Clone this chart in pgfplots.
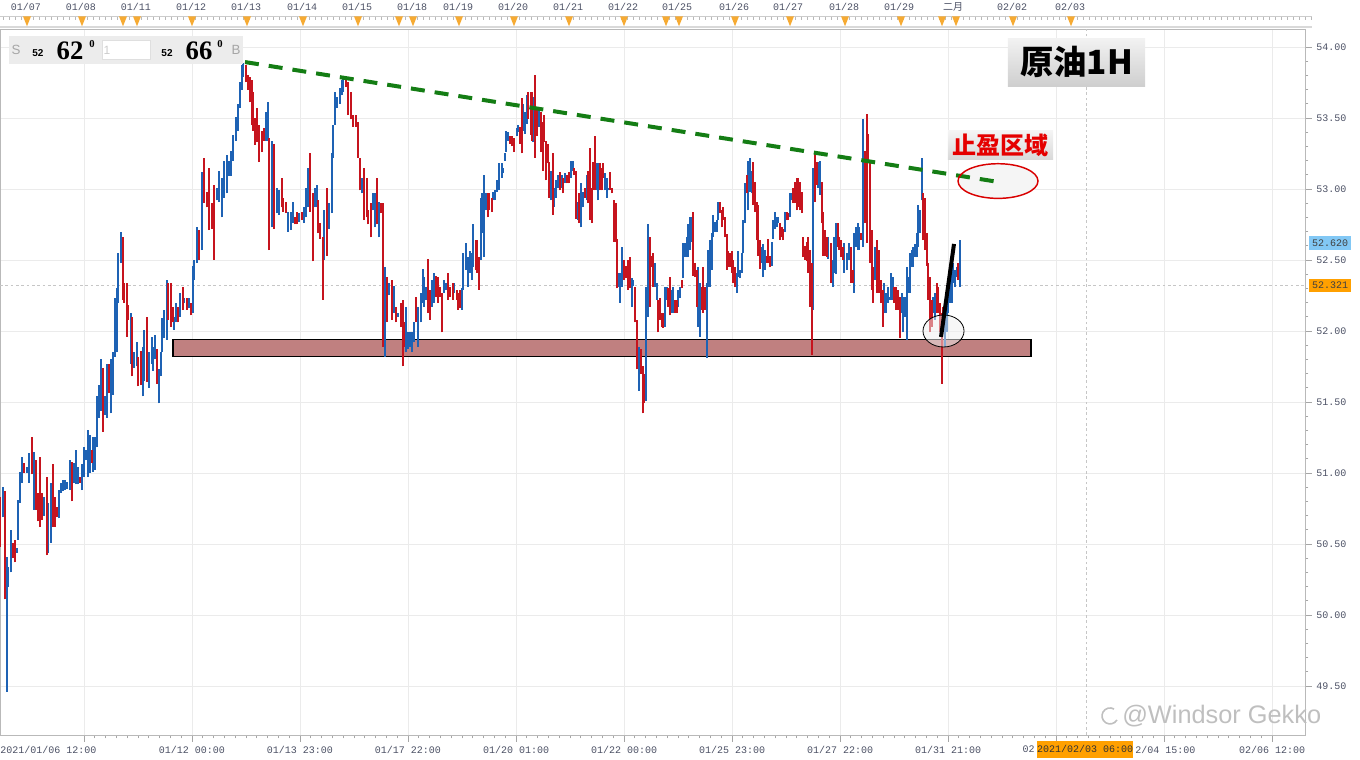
\documentclass[border=0pt]{standalone}
\usepackage{fontspec}
\usepackage{pgfplots}
\usepackage{pgfplotstable}
\pgfplotsset{compat=1.18}
\setmainfont{Liberation Sans}
\newfontfamily\mono{Liberation Mono}
\newfontfamily\serifb{Liberation Serif}
\newfontfamily\cjk{Noto Sans CJK SC}
\definecolor{upc}{RGB}{30,98,180}
\definecolor{dnc}{RGB}{198,20,30}
\definecolor{supp}{RGB}{192,128,128}
\definecolor{trend}{RGB}{20,125,20}
\definecolor{tri}{RGB}{246,170,50}
\definecolor{lbl}{RGB}{75,80,100}
\definecolor{tagblue}{RGB}{130,200,245}
\definecolor{tagorange}{RGB}{255,160,0}
\newcommand\toplab[2]{\node[text=lbl, font=\mono\fontsize{7.5}{9}\selectfont, inner sep=0pt] at (axis cs:#1,54.282) {#2};}

% hourly bars, x = time position, l = low, h = high
\pgfplotstableread{
x l h
3 50.69 50.90
7 49.46 50.41
8 50.20 50.34
11 50.30 50.60
17 50.44 50.47
18 50.53 50.81
20 50.79 51.01
22 50.93 51.11
27 51.00 51.04
29 50.93 51.14
34 50.74 51.15
44 50.70 50.83
48 50.44 50.79
51 50.51 50.93
59 50.68 50.88
61 50.86 50.93
63 50.87 50.95
65 50.88 50.95
67 50.89 50.94
70 50.88 51.09
74 50.93 51.07
76 50.92 51.16
78 50.92 51.04
82 50.88 51.06
84 50.97 51.18
86 51.09 51.16
88 50.97 51.30
90 51.00 51.27
93 51.01 51.25
95 51.02 51.25
97 51.18 51.54
99 51.39 51.62
101 51.44 51.80
105 51.41 51.54
107 51.39 51.77
111 51.42 51.80
113 51.55 51.85
115 51.82 52.23
117 51.85 52.30
118 52.20 52.55
121 52.48 52.70
131 51.77 52.13
134 51.74 51.85
137 51.75 51.92
143 51.54 51.89
144 51.65 52.01
149 51.60 51.85
152 51.77 51.96
153 51.72 51.89
155 51.80 51.97
159 51.49 51.73
161 51.68 51.85
162 51.85 52.09
164 51.95 52.15
167 51.94 52.36
174 52.01 52.10
176 52.06 52.20
180 52.10 52.27
184 52.20 52.23
189 52.16 52.23
193 52.13 52.46
194 52.36 52.50
197 52.48 52.73
202 52.57 53.12
217 52.92 53.01
219 52.91 53.13
222 52.80 53.08
224 52.94 53.20
227 52.97 53.24
229 53.09 53.20
231 53.09 53.27
233 53.20 53.38
236 53.34 53.51
238 53.41 53.60
240 53.57 53.75
242 53.70 53.87
243 53.79 53.89
266 53.34 53.54
268 53.34 53.61
272 52.73 53.34
277 52.83 53.01
279 52.82 52.99
288 52.70 52.84
291 52.71 52.84
293 52.76 52.91
299 52.77 52.83
304 52.76 52.87
306 52.80 53.01
308 52.87 53.15
315 52.87 53.01
317 52.87 53.03
324 52.50 52.85
329 52.72 52.90
332 52.83 53.25
333 53.22 53.45
335 53.45 53.68
337 53.57 53.65
340 53.60 53.71
342 53.66 53.77
343 53.68 53.78
362 52.97 53.08
373 52.85 52.97
375 52.73 52.97
379 52.66 52.91
385 51.82 52.45
389 52.25 52.34
394 52.13 52.32
398 52.10 52.13
406 51.85 52.17
408 51.87 51.99
410 51.89 51.99
412 51.85 51.99
414 51.92 52.06
418 51.89 52.17
421 52.06 52.27
423 52.20 52.44
424 52.17 52.38
426 52.22 52.31
432 52.17 52.36
434 52.20 52.41
444 52.27 52.36
446 52.29 52.34
454 52.27 52.34
462 52.15 52.30
463 52.29 52.55
466 52.43 52.62
468 52.31 52.52
470 52.41 52.56
472 52.36 52.55
473 52.45 52.75
481 52.50 52.94
482 52.69 52.97
484 52.52 53.10
486 52.85 52.97
493 52.92 52.98
495 52.92 52.99
497 52.98 53.06
499 52.99 53.18
502 53.08 53.18
503 53.11 53.15
505 53.20 53.25
506 53.26 53.41
508 53.34 53.40
517 53.37 53.43
518 53.40 53.45
523 53.41 53.60
525 53.39 53.54
527 53.46 53.66
533 53.33 53.65
539 53.44 53.58
551 52.92 53.13
554 52.87 53.01
556 52.94 53.06
558 53.01 53.10
562 53.01 53.10
565 53.04 53.11
571 53.08 53.20
573 53.13 53.20
578 52.78 52.91
581 52.73 53.04
583 52.87 52.98
587 52.92 53.10
597 52.99 53.18
598 52.92 53.18
605 52.99 53.11
607 52.94 53.08
609 52.99 53.01
618 52.31 52.41
620 52.20 52.41
622 52.31 52.59
632 52.17 52.37
633 52.32 52.36
639 51.58 51.89
646 51.51 52.31
648 52.10 52.75
655 52.31 52.48
657 52.22 52.34
665 52.03 52.31
667 52.22 52.31
672 52.13 52.29
673 52.13 52.31
678 52.17 52.29
680 52.23 52.31
683 52.37 52.62
685 52.52 52.62
687 52.52 52.66
688 52.52 52.75
690 52.57 52.80
692 52.63 52.80
698 52.03 52.45
700 51.96 52.34
707 51.81 52.34
708 52.31 52.57
710 52.31 52.64
712 52.43 52.69
713 52.66 52.82
715 52.70 52.77
717 52.70 52.78
718 52.78 52.91
737 52.27 52.41
738 52.38 52.56
740 52.37 52.43
742 52.41 52.55
743 52.55 52.78
745 52.76 53.04
748 52.85 53.20
750 52.98 53.22
752 52.97 53.13
762 52.48 52.59
763 52.38 52.61
765 52.43 52.57
772 52.46 52.63
773 52.65 52.78
775 52.72 52.84
777 52.73 52.80
778 52.76 52.80
785 52.70 52.84
790 52.80 52.97
792 52.92 52.97
813 52.15 53.15
818 53.01 53.19
820 52.96 53.20
828 52.51 52.66
833 52.31 52.50
834 52.41 52.66
836 52.40 52.76
844 52.41 52.62
847 52.43 52.55
849 52.50 52.62
854 52.27 52.69
856 52.59 52.73
858 52.57 52.76
859 52.57 52.73
863 52.59 53.49
875 52.36 52.59
884 52.13 52.34
886 52.13 52.27
888 52.20 52.31
889 52.22 52.24
891 52.22 52.41
893 52.22 52.38
902 52.13 52.27
903 51.99 52.24
905 52.10 52.24
907 51.94 52.45
908 52.27 52.38
910 52.27 52.55
912 52.45 52.57
913 52.45 52.59
915 52.52 52.61
917 52.52 52.69
918 52.59 52.89
920 52.69 52.85
922 52.92 53.22
933 52.13 52.24
935 52.08 52.27
945 51.89 52.10
947 51.99 52.22
948 52.13 52.27
950 52.20 52.38
952 52.20 52.43
953 52.34 52.48
955 52.31 52.43
957 52.38 52.45
960 52.31 52.64
}\upbars

\pgfplotstableread{
x l h
0 50.48 50.83
5 50.11 50.87
13 50.40 50.51
15 50.37 50.53
24 51.00 51.07
32 50.99 51.25
36 50.74 51.09
38 50.66 50.86
40 50.62 51.11
42 50.67 50.86
47 50.42 50.97
53 50.62 51.06
55 50.62 50.83
57 50.69 50.76
72 50.80 51.08
80 50.93 50.97
92 51.07 51.16
103 51.29 51.74
109 51.56 51.77
123 52.22 52.66
124 52.20 52.34
127 51.96 52.34
128 52.08 52.18
132 51.68 52.10
138 51.61 51.82
141 51.62 51.86
147 51.64 52.10
157 51.63 51.87
168 52.08 52.34
171 52.03 52.34
173 52.06 52.17
178 52.06 52.17
183 52.15 52.31
187 52.15 52.23
191 52.11 52.20
199 52.50 52.71
204 52.90 53.22
207 52.87 52.98
209 52.71 53.15
212 52.72 52.90
214 52.50 53.03
246 53.75 53.87
248 53.70 53.80
250 53.61 53.79
252 53.45 53.77
253 53.41 53.68
255 53.31 53.50
257 53.33 53.57
259 53.19 53.45
262 53.26 53.41
264 53.34 53.43
269 52.57 53.36
274 52.72 53.32
282 52.87 53.08
283 52.84 52.94
286 52.83 52.91
295 52.75 52.80
297 52.75 52.84
302 52.78 52.84
310 52.84 53.25
313 52.49 52.97
318 52.69 52.92
320 52.65 52.76
323 52.22 52.66
327 52.53 53.01
346 53.72 53.77
348 53.52 53.75
351 53.49 53.68
353 53.44 53.52
356 53.44 53.52
358 53.22 53.47
360 52.99 53.22
364 52.78 53.15
367 52.80 53.08
368 52.75 52.85
371 52.66 52.90
377 52.75 53.08
381 52.83 52.90
383 51.89 52.90
387 52.06 52.38
392 52.08 52.36
396 52.06 52.17
401 52.03 52.20
403 51.75 52.22
404 51.89 52.06
416 52.06 52.24
428 52.13 52.51
430 52.08 52.29
436 52.24 52.39
438 52.20 52.38
440 52.24 52.31
442 51.99 52.27
448 52.22 52.41
450 52.24 52.31
453 52.22 52.34
457 52.22 52.29
458 52.15 52.27
460 52.16 52.29
476 52.43 52.64
477 52.41 52.64
479 52.29 52.52
488 52.80 52.97
489 52.85 52.97
492 52.84 52.94
510 53.32 53.37
512 53.30 53.37
514 53.26 53.36
520 53.32 53.44
522 53.25 53.64
528 53.49 53.68
531 53.38 53.68
532 53.34 53.68
535 53.22 53.80
537 53.37 53.58
541 53.26 53.54
543 53.13 53.47
544 53.33 53.52
546 53.06 53.34
548 53.18 53.32
549 52.94 53.19
553 52.82 53.25
560 52.99 53.12
563 52.97 53.08
567 53.04 53.10
569 53.04 53.12
574 53.10 53.15
576 52.79 53.13
579 52.76 52.97
585 52.94 53.01
588 52.90 53.13
590 52.78 53.29
592 52.76 53.01
593 52.99 53.19
595 52.99 53.37
600 52.99 53.18
602 52.99 53.15
603 53.08 53.18
610 52.99 53.12
612 52.97 53.01
614 52.63 52.92
616 52.63 52.90
617 52.30 52.65
624 52.36 52.50
626 52.37 52.46
628 52.29 52.50
630 52.30 52.52
635 52.06 52.31
637 51.73 52.08
641 51.70 51.87
643 51.42 51.75
644 51.49 51.70
650 52.17 52.66
652 52.45 52.53
653 52.31 52.55
658 51.99 52.22
660 52.08 52.23
662 52.03 52.13
663 52.02 52.13
668 52.17 52.30
670 52.11 52.38
675 52.13 52.22
677 52.13 52.22
682 52.30 52.36
693 52.39 52.84
695 52.38 52.48
697 52.17 52.43
702 52.15 52.31
703 52.13 52.45
705 52.15 52.31
720 52.83 52.91
722 52.73 52.85
723 52.78 52.87
725 52.66 52.80
727 52.43 52.68
728 52.45 52.56
730 52.45 52.55
732 52.41 52.56
733 52.34 52.50
735 52.31 52.45
747 52.97 53.10
753 52.89 53.19
755 52.84 53.05
757 52.64 52.91
758 52.53 52.89
760 52.44 52.64
767 52.48 52.53
768 52.48 52.65
770 52.45 52.53
780 52.64 52.76
782 52.66 52.73
783 52.64 52.72
787 52.78 52.84
788 52.78 52.83
793 52.90 53.01
795 52.90 53.05
797 52.85 53.08
798 52.87 53.08
800 52.85 53.05
802 52.83 52.98
803 52.52 52.66
805 52.50 52.60
807 52.49 52.63
808 52.41 52.66
810 52.17 52.57
812 51.83 52.48
815 52.91 53.26
817 53.03 53.19
822 52.76 53.05
823 52.53 52.84
825 52.53 52.71
827 52.52 52.66
831 52.34 52.62
838 52.59 52.76
839 52.57 52.66
841 52.52 52.64
843 52.50 52.59
851 52.34 52.59
853 52.34 52.43
861 52.64 52.69
865 52.76 53.27
867 52.62 53.53
868 53.20 53.39
870 52.48 53.20
872 52.29 52.71
873 52.20 52.45
877 52.27 52.64
879 52.27 52.57
881 52.20 52.36
883 52.03 52.29
894 52.20 52.31
896 52.15 52.31
898 52.15 52.29
900 51.95 52.24
923 52.64 52.97
925 52.57 52.94
927 52.46 52.69
928 52.22 52.48
930 51.99 52.38
932 52.03 52.22
937 52.13 52.34
938 52.13 52.31
940 51.99 52.20
942 51.63 52.13
943 51.99 52.17
958 52.36 52.48
}\dnbars

\begin{document}
\begin{tikzpicture}
\begin{axis}[
    scale only axis, width=978.75pt, height=529.5pt,
    xmin=0, xmax=1305, ymin=49.155, ymax=54.127,
    clip=false,
    axis line style={draw=gray!55},
    tick align=outside, major tick length=5pt, minor tick length=2.5pt,
    tick style={gray!70, line width=0.5pt},
    xtick={84,192,300,408,516,624,732,840,948,1056,1164,1272},
    xticklabels={,01/12 00:00,01/13 23:00,01/17 22:00,01/20 01:00,01/22 00:00,01/25 23:00,01/27 22:00,01/31 21:00,,,02/06 12:00},
    minor x tick num=9,
    xtick pos=bottom,
    ytick={49.5,50,50.5,51,51.5,52,52.5,53,53.5,54},
    minor y tick num=4,
    ytick pos=right, yticklabel pos=right,
    yticklabel={\pgfmathprintnumber[fixed,fixed zerofill,precision=2,assume math mode=true]{\tick}},
    ticklabel style={font=\mono\fontsize{7.5}{9}\selectfont, text=lbl},
    grid=major, major grid style={gray!16, line width=0.7pt},
]
% support zone and crosshair
\fill[supp, draw=black, line width=0.8pt] (axis cs:173,51.82) rectangle (axis cs:1031,51.94);
\draw[gray!45, dash pattern=on 2pt off 2pt, line width=0.5pt] (axis cs:0,52.321) -- (axis cs:1305,52.321);
\draw[gray!45, dash pattern=on 2pt off 2pt, line width=0.5pt] (axis cs:1086,49.155) -- (axis cs:1086,54.127);

% bars
\addplot[draw=upc, line width=0.85pt, quiver={u=0, v=\thisrow{h}-\thisrow{l}}] table[x=x, y=l] {\upbars};
\addplot[draw=dnc, line width=0.85pt, quiver={u=0, v=\thisrow{h}-\thisrow{l}}] table[x=x, y=l] {\dnbars};

% target zone, resistance line, rebound mark
\fill[gray!8] (axis cs:998,53.056) ellipse [x radius=30pt, y radius=13pt];
\draw[trend, line width=3pt, dash pattern=on 10.5pt off 7.5pt] (axis cs:245,53.894) -- (axis cs:998,53.05);
\draw[red!85!black, line width=1.1pt] (axis cs:998,53.056) ellipse [x radius=30pt, y radius=13pt];
\draw[black, line width=0.6pt, fill=gray!12, fill opacity=0.5] (axis cs:943.5,52.0) ellipse [x radius=15.4pt, y radius=12pt];
\draw[black, line width=3pt] (axis cs:941,51.958) -- (axis cs:954,52.613);

% annotation boxes
\node[top color=gray!10, bottom color=gray!38, minimum width=103pt, minimum height=36pt, inner sep=0pt,
      font=\cjk\bfseries\fontsize{25}{27}\selectfont] at (axis cs:1076.5,53.894) {原油1H};
\node[top color=gray!8, bottom color=gray!30, minimum width=79pt, minimum height=22pt, inner sep=0pt,
      text=red!90!black, font=\cjk\bfseries\fontsize{18}{20}\selectfont] at (axis cs:1000.5,53.31) {止盈区域};

% quote box
\fill[gray!15] (axis cs:9,54.077) rectangle (axis cs:243,53.88);
\filldraw[fill=white, draw=gray!25, line width=0.4pt] (axis cs:102,54.049) rectangle (axis cs:150,53.915);
\node[text=gray!40, font=\fontsize{9}{10}\selectfont] at (axis cs:107,53.979) {1};
\node[text=gray!70, font=\fontsize{10}{11}\selectfont] at (axis cs:16,53.979) {S};
\node[font=\bfseries\fontsize{7.5}{8}\selectfont] at (axis cs:38,53.955) {52};
\node[font=\serifb\bfseries\fontsize{20}{21}\selectfont] at (axis cs:70,53.976) {62};
\node[font=\serifb\bfseries\fontsize{8}{9}\selectfont] at (axis cs:92,54.021) {0};
\node[font=\bfseries\fontsize{7.5}{8}\selectfont] at (axis cs:167,53.955) {52};
\node[font=\serifb\bfseries\fontsize{20}{21}\selectfont] at (axis cs:199,53.976) {66};
\node[font=\serifb\bfseries\fontsize{8}{9}\selectfont] at (axis cs:220,54.021) {0};
\node[text=gray!70, font=\fontsize{10}{11}\selectfont] at (axis cs:236,53.979) {B};

% top date ruler
\draw[gray!40, line width=0.6pt] (axis cs:0,54.213) -- (axis cs:1312,54.213);
\pgfplotsinvokeforeach{3,9,...,1311}{\draw[gray!55, line width=0.4pt] (axis cs:#1,54.213) -- (axis cs:#1,54.190);}
\draw[gray!30, line width=1.2pt] (axis cs:0,54.141) -- (axis cs:1312,54.141);
\pgfplotsinvokeforeach{27,82,123,137,192,247,303,358,399,413,459,514,569,624,666,679,735,790,845,901,942,956,1013,1071}
  {\fill[tri] (axis cs:#1,54.146) -- ++(-3pt,7.5pt) -- ++(6pt,0pt) -- cycle;}
\toplab{26}{01/07}\toplab{81}{01/08}\toplab{136}{01/11}\toplab{191}{01/12}\toplab{246}{01/13}
\toplab{302}{01/14}\toplab{357}{01/15}\toplab{412}{01/18}\toplab{458}{01/19}\toplab{513}{01/20}
\toplab{568}{01/21}\toplab{623}{01/22}\toplab{677}{01/25}\toplab{734}{01/26}\toplab{788}{01/27}
\toplab{844}{01/28}\toplab{899}{01/29}\toplab{1012}{02/02}\toplab{1070}{02/03}
\node[text=lbl, font=\cjk\fontsize{7.5}{9}\selectfont, inner sep=0pt] at (axis cs:953,54.282) {二月};

% bottom labels around the current time tag
\node[anchor=west, text=lbl, font=\mono\fontsize{7.5}{9}\selectfont, inner sep=0pt] at (axis cs:0,49.052) {2021/01/06 12:00};
\node[anchor=east, text=lbl, font=\mono\fontsize{7.5}{9}\selectfont, inner sep=0pt] at (axis cs:1035,49.052) {02};
\node[anchor=west, text=lbl, font=\mono\fontsize{7.5}{9}\selectfont, inner sep=0pt] at (axis cs:1135,49.052) {2/04 15:00};
\node[fill=tagorange, text=black!80, font=\mono\fontsize{7.5}{9}\selectfont, minimum width=72pt, minimum height=12.5pt, inner sep=0pt] at (axis cs:1085,49.055) {2021/02/03 06:00};

% price tags
\node[fill=tagblue, text=black!75, font=\mono\fontsize{7.5}{9}\selectfont, minimum width=31pt, minimum height=10pt, inner sep=0pt] at (axis cs:1330,52.62) {52.620};
\node[fill=tagorange, text=black!75, font=\mono\fontsize{7.5}{9}\selectfont, minimum width=31pt, minimum height=10pt, inner sep=0pt] at (axis cs:1330,52.321) {52.321};

% watermark
\draw[gray!50, line width=1.2pt] (axis cs:1110,49.289) ++(60:6pt) arc[start angle=60, end angle=330, radius=6pt];
\node[anchor=west, text=gray!50, font=\fontsize{19}{21}\selectfont, inner sep=0pt] at (axis cs:1122,49.289) {@Windsor Gekko};

\coordinate (bbSW) at (axis cs:0,48.979);
\coordinate (bbNE) at (axis cs:1360,54.331);
\end{axis}
\pgfresetboundingbox
\path[use as bounding box] (bbSW) rectangle (bbNE);
\end{tikzpicture}
\end{document}
